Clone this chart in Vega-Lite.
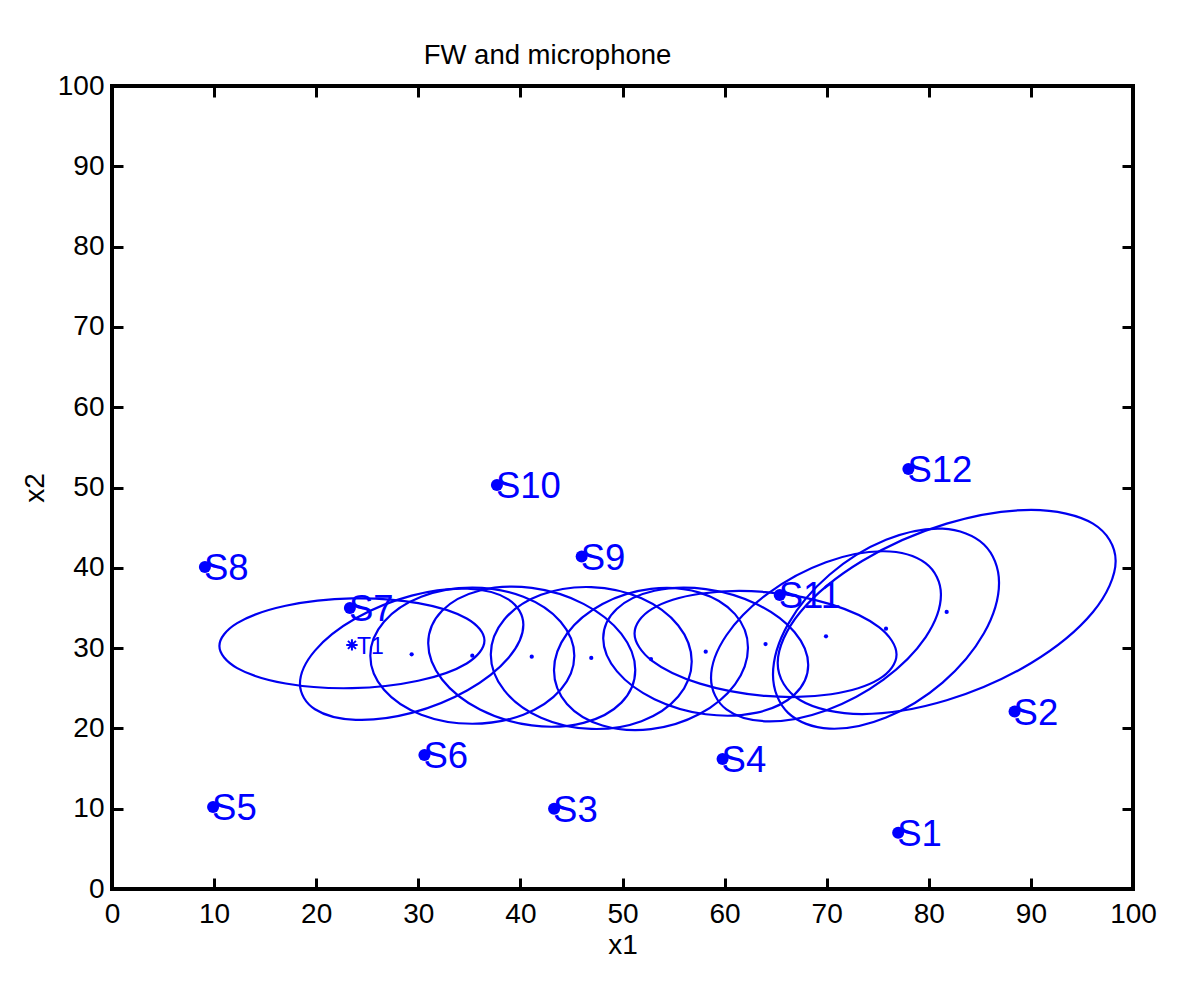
{
  "$schema": "https://vega.github.io/schema/vega-lite/v6.json",
  "width": 1021,
  "height": 803,
  "autosize": {"type": "none"},
  "padding": {"left": 112, "top": 86, "right": 67, "bottom": 109},
  "background": "white",
  "title": {"text": "FW and microphone", "fontSize": 27.5, "fontWeight": "normal", "color": "black", "anchor": "middle", "dx": -75, "offset": 3},
  "config": {
    "font": "Liberation Sans",
    "view": {"stroke": "black", "strokeWidth": 4}
  },
  "datasets": {
    "ellipses": [
      {"e":1,"i":0,"x":36.48,"y":30.94},{"e":1,"i":1,"x":34.74,"y":33.69},{"e":1,"i":2,"x":29.99,"y":35.61},{"e":1,"i":3,"x":23.50,"y":36.19},{"e":1,"i":4,"x":17.01,"y":35.27},{"e":1,"i":5,"x":12.26,"y":33.11},{"e":1,"i":6,"x":10.52,"y":30.26},{"e":1,"i":7,"x":12.26,"y":27.51},{"e":1,"i":8,"x":17.01,"y":25.59},{"e":1,"i":9,"x":23.50,"y":25.01},{"e":1,"i":10,"x":29.99,"y":25.93},{"e":1,"i":11,"x":34.74,"y":28.09},
      {"e":2,"i":0,"x":40.29,"y":32.91},{"e":2,"i":1,"x":38.82,"y":36.07},{"e":2,"i":2,"x":34.82,"y":37.39},{"e":2,"i":3,"x":29.35,"y":36.53},{"e":2,"i":4,"x":23.88,"y":33.71},{"e":2,"i":5,"x":19.88,"y":29.69},{"e":2,"i":6,"x":18.41,"y":25.55},{"e":2,"i":7,"x":19.88,"y":22.39},{"e":2,"i":8,"x":23.88,"y":21.07},{"e":2,"i":9,"x":29.35,"y":21.93},{"e":2,"i":10,"x":34.82,"y":24.75},{"e":2,"i":11,"x":38.82,"y":28.77},
      {"e":3,"i":0,"x":45.28,"y":29.05},{"e":3,"i":1,"x":43.94,"y":33.29},{"e":3,"i":2,"x":40.29,"y":36.39},{"e":3,"i":3,"x":35.29,"y":37.52},{"e":3,"i":4,"x":30.29,"y":36.39},{"e":3,"i":5,"x":26.64,"y":33.29},{"e":3,"i":6,"x":25.30,"y":29.05},{"e":3,"i":7,"x":26.64,"y":24.81},{"e":3,"i":8,"x":30.29,"y":21.71},{"e":3,"i":9,"x":35.29,"y":20.58},{"e":3,"i":10,"x":40.29,"y":21.71},{"e":3,"i":11,"x":43.94,"y":24.81},
      {"e":4,"i":0,"x":51.25,"y":27.27},{"e":4,"i":1,"x":49.89,"y":31.77},{"e":4,"i":2,"x":46.18,"y":35.51},{"e":4,"i":3,"x":41.11,"y":37.49},{"e":4,"i":4,"x":36.04,"y":37.17},{"e":4,"i":5,"x":32.33,"y":34.65},{"e":4,"i":6,"x":30.97,"y":30.59},{"e":4,"i":7,"x":32.33,"y":26.09},{"e":4,"i":8,"x":36.04,"y":22.35},{"e":4,"i":9,"x":41.11,"y":20.37},{"e":4,"i":10,"x":46.18,"y":20.69},{"e":4,"i":11,"x":49.89,"y":23.21},
      {"e":5,"i":0,"x":56.78,"y":28.33},{"e":5,"i":1,"x":55.46,"y":32.81},{"e":5,"i":2,"x":51.86,"y":36.20},{"e":5,"i":3,"x":46.94,"y":37.60},{"e":5,"i":4,"x":42.02,"y":36.64},{"e":5,"i":5,"x":38.42,"y":33.57},{"e":5,"i":6,"x":37.10,"y":29.21},{"e":5,"i":7,"x":38.42,"y":24.73},{"e":5,"i":8,"x":42.02,"y":21.34},{"e":5,"i":9,"x":46.94,"y":19.94},{"e":5,"i":10,"x":51.86,"y":20.90},{"e":5,"i":11,"x":55.46,"y":23.97},
      {"e":6,"i":0,"x":62.29,"y":30.05},{"e":6,"i":1,"x":61.02,"y":34.23},{"e":6,"i":2,"x":57.54,"y":36.91},{"e":6,"i":3,"x":52.79,"y":37.37},{"e":6,"i":4,"x":48.04,"y":35.49},{"e":6,"i":5,"x":44.56,"y":31.79},{"e":6,"i":6,"x":43.29,"y":27.23},{"e":6,"i":7,"x":44.56,"y":23.05},{"e":6,"i":8,"x":48.04,"y":20.37},{"e":6,"i":9,"x":52.79,"y":19.91},{"e":6,"i":10,"x":57.54,"y":21.79},{"e":6,"i":11,"x":61.02,"y":25.49},
      {"e":7,"i":0,"x":68.19,"y":27.88},{"e":7,"i":1,"x":66.84,"y":32.00},{"e":7,"i":2,"x":63.17,"y":35.46},{"e":7,"i":3,"x":58.15,"y":37.34},{"e":7,"i":4,"x":53.13,"y":37.14},{"e":7,"i":5,"x":49.46,"y":34.90},{"e":7,"i":6,"x":48.11,"y":31.22},{"e":7,"i":7,"x":49.46,"y":27.10},{"e":7,"i":8,"x":53.13,"y":23.64},{"e":7,"i":9,"x":58.15,"y":21.76},{"e":7,"i":10,"x":63.17,"y":21.96},{"e":7,"i":11,"x":66.84,"y":24.20},
      {"e":8,"i":0,"x":76.84,"y":29.19},{"e":8,"i":1,"x":75.12,"y":32.61},{"e":8,"i":2,"x":70.43,"y":35.45},{"e":8,"i":3,"x":64.01,"y":36.98},{"e":8,"i":4,"x":57.59,"y":36.77},{"e":8,"i":5,"x":52.90,"y":34.89},{"e":8,"i":6,"x":51.18,"y":31.83},{"e":8,"i":7,"x":52.90,"y":28.41},{"e":8,"i":8,"x":57.59,"y":25.57},{"e":8,"i":9,"x":64.01,"y":24.04},{"e":8,"i":10,"x":70.43,"y":24.25},{"e":8,"i":11,"x":75.12,"y":26.13},
      {"e":9,"i":0,"x":81.19,"y":36.66},{"e":9,"i":1,"x":79.68,"y":40.58},{"e":9,"i":2,"x":75.56,"y":42.06},{"e":9,"i":3,"x":69.93,"y":40.70},{"e":9,"i":4,"x":64.30,"y":36.86},{"e":9,"i":5,"x":60.18,"y":31.60},{"e":9,"i":6,"x":58.67,"y":26.28},{"e":9,"i":7,"x":60.18,"y":22.36},{"e":9,"i":8,"x":64.30,"y":20.88},{"e":9,"i":9,"x":69.93,"y":22.24},{"e":9,"i":10,"x":75.56,"y":26.08},{"e":9,"i":11,"x":79.68,"y":31.34},
      {"e":10,"i":0,"x":86.88,"y":38.15},{"e":10,"i":1,"x":85.40,"y":42.91},{"e":10,"i":2,"x":81.35,"y":44.87},{"e":10,"i":3,"x":75.81,"y":43.48},{"e":10,"i":4,"x":70.27,"y":39.13},{"e":10,"i":5,"x":66.22,"y":32.99},{"e":10,"i":6,"x":64.74,"y":26.69},{"e":10,"i":7,"x":66.22,"y":21.93},{"e":10,"i":8,"x":70.27,"y":19.97},{"e":10,"i":9,"x":75.81,"y":21.36},{"e":10,"i":10,"x":81.35,"y":25.71},{"e":10,"i":11,"x":85.40,"y":31.85},
      {"e":11,"i":0,"x":98.30,"y":40.85},{"e":11,"i":1,"x":96.08,"y":45.50},{"e":11,"i":2,"x":90.03,"y":47.21},{"e":11,"i":3,"x":81.75,"y":45.50},{"e":11,"i":4,"x":73.47,"y":40.85},{"e":11,"i":5,"x":67.42,"y":34.50},{"e":11,"i":6,"x":65.20,"y":28.15},{"e":11,"i":7,"x":67.42,"y":23.50},{"e":11,"i":8,"x":73.47,"y":21.79},{"e":11,"i":9,"x":81.75,"y":23.50},{"e":11,"i":10,"x":90.03,"y":28.15},{"e":11,"i":11,"x":96.08,"y":34.50}
    ],
    "sensors": [
      {"name":"S1","x":77.0,"y":7.0},{"name":"S2","x":88.4,"y":22.1},{"name":"S3","x":43.3,"y":10.0},{"name":"S4","x":59.8,"y":16.2},
      {"name":"S5","x":9.9,"y":10.2},{"name":"S6","x":30.6,"y":16.7},{"name":"S7","x":23.3,"y":35.0},{"name":"S8","x":9.1,"y":40.1},
      {"name":"S9","x":46.0,"y":41.4},{"name":"S10","x":37.7,"y":50.3},{"name":"S11","x":65.4,"y":36.6},{"name":"S12","x":78.0,"y":52.3}
    ],
    "centers": [
      {"x":29.35,"y":29.23},{"x":35.29,"y":29.05},{"x":41.11,"y":28.93},{"x":46.94,"y":28.77},{"x":52.79,"y":28.64},
      {"x":58.15,"y":29.55},{"x":64.01,"y":30.51},{"x":69.93,"y":31.47},{"x":75.81,"y":32.42},{"x":81.75,"y":34.5}
    ],
    "target": [{"name":"T1","x":23.5,"y":30.4}]
  },
  "layer": [
    {
      "data": {"name": "ellipses"},
      "mark": {"type": "line", "interpolate": "cardinal-closed", "color": "#0000f0", "strokeWidth": 2.2},
      "encoding": {
        "x": {"field": "x", "type": "quantitative", "scale": {"domain": [0, 100], "nice": false, "zero": false},
          "axis": {"orient": "bottom", "values": [0,10,20,30,40,50,60,70,80,90,100], "domain": false, "grid": false, "tickSize": 11, "tickWidth": 3, "tickColor": "black", "offset": -11, "labelFontSize": 28, "labelColor": "black", "labelPadding": 11, "labelFlush": false, "labelOverlap": false, "title": "x1", "titleFontSize": 28, "titleFontWeight": "normal", "titleColor": "black", "titlePadding": 3}},
        "y": {"field": "y", "type": "quantitative", "scale": {"domain": [0, 100], "nice": false, "zero": false},
          "axis": {"orient": "left", "values": [0,10,20,30,40,50,60,70,80,90,100], "domain": false, "grid": false, "tickSize": 11, "tickWidth": 3, "tickColor": "black", "offset": -11, "labelFontSize": 28, "labelColor": "black", "labelPadding": 8, "labelFlush": false, "labelOverlap": false, "title": "x2", "titleFontSize": 28, "titleFontWeight": "normal", "titleColor": "black", "titlePadding": 8}},
        "detail": {"field": "e", "type": "nominal"},
        "order": {"field": "i", "type": "quantitative"}
      }
    },
    {
      "data": {"name": "sensors"},
      "mark": {"type": "circle", "size": 145, "color": "#0000ff", "opacity": 1},
      "encoding": {
        "x": {"field": "x", "type": "quantitative",
          "axis": {"orient": "top", "values": [0,10,20,30,40,50,60,70,80,90,100], "domain": false, "grid": false, "tickSize": 11, "tickWidth": 3, "tickColor": "black", "offset": -11, "labels": false, "title": null}},
        "y": {"field": "y", "type": "quantitative",
          "axis": {"orient": "right", "values": [0,10,20,30,40,50,60,70,80,90,100], "domain": false, "grid": false, "tickSize": 11, "tickWidth": 3, "tickColor": "black", "offset": -11, "labels": false, "title": null}}
      }
    },
    {
      "data": {"name": "sensors"},
      "mark": {"type": "text", "fontSize": 36.5, "color": "#0000ff", "align": "left", "baseline": "middle", "dx": -1, "dy": 2},
      "encoding": {
        "x": {"field": "x", "type": "quantitative", "axis": null},
        "y": {"field": "y", "type": "quantitative", "axis": null},
        "text": {"field": "name"}
      }
    },
    {
      "data": {"name": "centers"},
      "mark": {"type": "circle", "size": 18, "color": "#0000ff", "opacity": 1},
      "encoding": {
        "x": {"field": "x", "type": "quantitative", "axis": null},
        "y": {"field": "y", "type": "quantitative", "axis": null}
      }
    },
    {
      "data": {"name": "target"},
      "mark": {"type": "point", "shape": "M-1,0L1,0M0,-1L0,1M-0.7,-0.7L0.7,0.7M-0.7,0.7L0.7,-0.7", "filled": false, "stroke": "#0000ff", "strokeWidth": 2, "size": 130, "opacity": 1},
      "encoding": {
        "x": {"field": "x", "type": "quantitative", "axis": null},
        "y": {"field": "y", "type": "quantitative", "axis": null}
      }
    },
    {
      "data": {"name": "target"},
      "mark": {"type": "text", "fontSize": 23, "color": "#0000ff", "align": "left", "baseline": "middle", "dx": 5, "dy": 2},
      "encoding": {
        "x": {"field": "x", "type": "quantitative", "axis": null},
        "y": {"field": "y", "type": "quantitative", "axis": null},
        "text": {"field": "name"}
      }
    }
  ],
  "resolve": {"axis": {"x": "independent", "y": "independent"}}
}
